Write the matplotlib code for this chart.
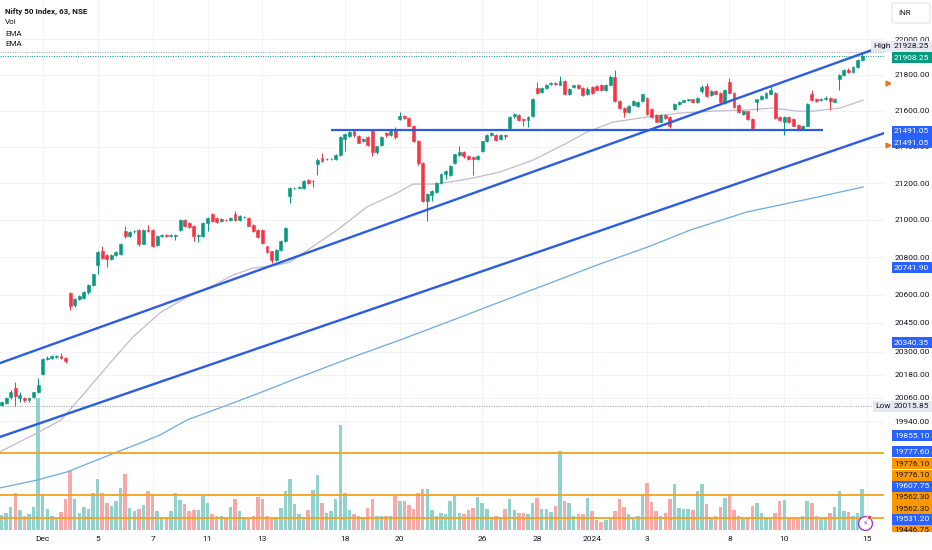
import numpy as np
import matplotlib.pyplot as plt
from matplotlib.lines import Line2D
from matplotlib.patches import FancyBboxPatch, Rectangle
from matplotlib.transforms import blended_transform_factory, offset_copy

plt.rcParams['font.family'] = ['Roboto', 'DejaVu Sans']

# 63-minute bars: last bars of Nov 29, Nov 30, then Dec 1 .. Jan 12 (6 bars a day)
opens = [
    20024, 20032, 20062, 20110, 20060, 20060, 20046, 20062, 20090,
    20182, 20262, 20265, 20274, 20278, 20268,   # Dec 1
    20610, 20545, 20577, 20580, 20612, 20652,   # Dec 4
    20760, 20830, 20812, 20790, 20812, 20815,   # Dec 5
    20940, 20915, 20938, 20945, 20872, 20948,   # Dec 6
    20945, 20865, 20915, 20918, 20914, 20912,   # Dec 7
    20948, 21000, 20985, 20965, 20915, 20912,   # Dec 8
    20985, 21030, 21010, 20995, 20998, 20998,   # Dec 11
    21033, 20998, 21014, 21012, 20975, 20945,   # Dec 12
    20945, 20858, 20830, 20785, 20840, 20886,   # Dec 13
    21130, 21172, 21176, 21175, 21215, 21210,   # Dec 14
    21305, 21335, 21330, 21333, 21330, 21355,   # Dec 15
    21445, 21460, 21485, 21460, 21430, 21455,   # Dec 18
    21485, 21369, 21410, 21478, 21462, 21495,   # Dec 19
    21555, 21570, 21560, 21517, 21430, 21310,   # Dec 20
    21103, 21137, 21152, 21200, 21248, 21246,   # Dec 21
    21310, 21355, 21370, 21350, 21345, 21330,   # Dec 22
    21376, 21430, 21465, 21467, 21440, 21463,   # Dec 26
    21505, 21568, 21575, 21555, 21548, 21570,   # Dec 27
    21727, 21702, 21727, 21750, 21755, 21744,   # Dec 28
    21767, 21690, 21733, 21744, 21727, 21690,   # Dec 29
    21730, 21735, 21744, 21715, 21744, 21789,   # Jan 1
    21655, 21612, 21590, 21630, 21626, 21653,   # Jan 2
    21672, 21608, 21576, 21539, 21576, 21563,   # Jan 3
    21608, 21635, 21650, 21657, 21662, 21645,   # Jan 4
    21708, 21735, 21684, 21711, 21699, 21641,   # Jan 5
    21757, 21699, 21630, 21581, 21595, 21554,   # Jan 8
    21648, 21662, 21672, 21695, 21700, 21563,   # Jan 9
    21536, 21563, 21554, 21521, 21500, 21517,   # Jan 10
    21690, 21666, 21660, 21662, 21672, 21650,   # Jan 11
    21775, 21798, 21829, 21816, 21843, 21883,   # Jan 12
]
highs = [
    20042, 20065, 20098, 20140, 20088, 20065, 20064, 20092, 20160,
    20265, 20275, 20282, 20280, 20290, 20272,
    20616, 20580, 20598, 20620, 20656, 20712,
    20830, 20860, 20818, 20816, 20830, 20875,
    20967, 20940, 20948, 20952, 20952, 20975,
    20950, 20920, 20922, 20924, 20922, 20925,
    21006, 21004, 20990, 20970, 20922, 20988,
    21015, 21036, 21015, 21010, 21004, 21016,
    21048, 21025, 21022, 21016, 20980, 20950,
    20950, 20862, 20835, 20845, 20890, 20960,
    21178, 21180, 21184, 21216, 21220, 21218,
    21335, 21364, 21338, 21338, 21360, 21460,
    21475, 21486, 21490, 21465, 21450, 21460,
    21490, 21405, 21460, 21482, 21490, 21510,
    21592, 21576, 21565, 21522, 21435, 21315,
    21145, 21165, 21205, 21255, 21270, 21298,
    21362, 21402, 21375, 21355, 21350, 21352,
    21434, 21470, 21480, 21472, 21468, 21470,
    21568, 21585, 21580, 21560, 21570, 21668,
    21762, 21730, 21748, 21760, 21762, 21793,
    21772, 21726, 21745, 21750, 21732, 21730,
    21735, 21740, 21750, 21748, 21800, 21825,
    21660, 21618, 21630, 21658, 21652, 21695,
    21678, 21612, 21580, 21580, 21582, 21568,
    21640, 21652, 21660, 21666, 21666, 21676,
    21740, 21755, 21712, 21716, 21704, 21722,
    21780, 21704, 21635, 21604, 21600, 21558,
    21666, 21684, 21704, 21735, 21705, 21568,
    21568, 21568, 21560, 21526, 21522, 21640,
    21717, 21670, 21670, 21680, 21676, 21670,
    21802, 21834, 21836, 21848, 21888, 21928.25,
]
lows = [
    20018, 20028, 20055, 20015.85, 20040, 20040, 20040, 20058, 20085,
    20178, 20255, 20260, 20268, 20262, 20242,
    20518, 20535, 20570, 20575, 20605, 20648,
    20712, 20790, 20748, 20785, 20805, 20810,
    20905, 20910, 20930, 20862, 20868, 20935,
    20855, 20860, 20908, 20910, 20908, 20890,
    20940, 20960, 20958, 20885, 20880, 20908,
    20940, 20990, 20985, 20990, 20992, 20994,
    20995, 20994, 21010, 20965, 20935, 20905,
    20870, 20820, 20770, 20780, 20835, 20880,
    21093, 21166, 21172, 21170, 21196, 21180,
    21246, 21315, 21325, 21328, 21325, 21350,
    21376, 21455, 21455, 21418, 21425, 21405,
    21347, 21362, 21405, 21455, 21458, 21440,
    21550, 21552, 21512, 21425, 21300, 21095,
    20995, 21100, 21148, 21195, 21220, 21240,
    21305, 21350, 21340, 21328, 21246, 21325,
    21370, 21425, 21460, 21432, 21435, 21440,
    21500, 21560, 21540, 21515, 21510, 21565,
    21695, 21698, 21722, 21745, 21745, 21740,
    21685, 21686, 21728, 21722, 21680, 21686,
    21695, 21712, 21710, 21710, 21740, 21648,
    21608, 21563, 21585, 21625, 21620, 21648,
    21576, 21558, 21534, 21535, 21555, 21505,
    21604, 21630, 21646, 21654, 21640, 21640,
    21700, 21676, 21680, 21690, 21646, 21636,
    21695, 21616, 21585, 21576, 21549, 21495,
    21599, 21657, 21668, 21690, 21555, 21540,
    21463, 21530, 21512, 21485, 21495, 21512,
    21655, 21648, 21655, 21658, 21604, 21645,
    21717, 21794, 21810, 21812, 21838, 21878,
]
closes = [
    20037, 20060, 20090, 20070, 20072, 20046, 20060, 20088, 20125,
    20260, 20268, 20275, 20276, 20268, 20250,
    20540, 20577, 20593, 20616, 20652, 20708,
    20825, 20796, 20790, 20812, 20825, 20870,
    20912, 20935, 20940, 20870, 20948, 20940,
    20860, 20915, 20918, 20914, 20918, 20920,
    21002, 20965, 20962, 20912, 20916, 20983,
    21010, 20995, 20990, 21005, 20997, 21012,
    20998, 21020, 21016, 20968, 20940, 20908,
    20875, 20825, 20785, 20840, 20886, 20955,
    21172, 21174, 21178, 21213, 21200, 21212,
    21328, 21320, 21334, 21333, 21355, 21455,
    21470, 21482, 21462, 21423, 21445, 21412,
    21369, 21402, 21455, 21462, 21485, 21455,
    21570, 21560, 21517, 21430, 21310, 21103,
    21140, 21159, 21200, 21250, 21265, 21293,
    21357, 21370, 21348, 21333, 21330, 21348,
    21430, 21467, 21475, 21436, 21463, 21458,
    21565, 21580, 21545, 21548, 21565, 21663,
    21700, 21727, 21744, 21756, 21750, 21767,
    21690, 21722, 21740, 21727, 21684, 21722,
    21699, 21717, 21715, 21744, 21789, 21653,
    21612, 21590, 21626, 21653, 21648, 21690,
    21581, 21563, 21539, 21576, 21560, 21517,
    21635, 21648, 21657, 21662, 21645, 21672,
    21730, 21680, 21708, 21695, 21650, 21717,
    21699, 21621, 21590, 21599, 21554, 21503,
    21662, 21680, 21700, 21717, 21560, 21545,
    21563, 21536, 21517, 21500, 21517, 21635,
    21659, 21653, 21666, 21672, 21653, 21666,
    21798, 21829, 21816, 21843, 21883, 21908.25,
]
# relative volume per bar
volumes = [
    15, 17, 23, 37, 20, 14, 16, 23, 132,
    35, 21, 14, 12, 18, 31,
    59, 31, 17, 23, 21, 37,
    51, 37, 27, 24, 29, 42,
    56, 22, 19, 21, 25, 39,
    36, 19, 13, 13, 19, 37,
    30, 26, 19, 20, 20, 34,
    27, 16, 14, 14, 12, 23,
    31, 19, 13, 11, 14, 33,
    31, 14, 12, 12, 22, 39,
    51, 26, 16, 13, 20, 40,
    55, 27, 17, 19, 31, 105,
    37, 20, 16, 14, 13, 22,
    31, 14, 14, 14, 14, 34,
    29, 29, 25, 21, 37, 41,
    41, 20, 14, 17, 16, 29,
    35, 17, 16, 20, 22, 33,
    27, 21, 13, 14, 12, 21,
    31, 20, 17, 17, 16, 27,
    32, 21, 21, 18, 24, 79,
    29, 27, 14, 16, 16, 32,
    19, 10, 8, 10, 11, 19,
    31, 23, 16, 11, 14, 36,
    47, 28, 19, 14, 17, 31,
    46, 22, 21, 21, 20, 39,
    46, 26, 13, 14, 23, 32,
    35, 20, 14, 11, 13, 24,
    27, 17, 12, 11, 17, 29,
    30, 12, 12, 12, 14, 29,
    27, 14, 13, 12, 17, 23,
    39, 19, 18, 14, 17, 41,
]

# EMA lines (bar index, price)
ema_fast_x = [-1, 7.75, 13.0, 18.7, 23.7, 28.7, 34.6, 40.5, 45.5, 50.6, 54.9, 60.2, 63.0,
              73.3, 79.8, 86.4, 89.9, 94.3, 98.0, 103.0, 108.9, 116.1, 123.5, 127.9, 130.7,
              133.6, 141.0, 148.2, 155.4, 162.8, 168.5, 173.8, 177.3, 183.2, 188.2]
ema_fast = [19775, 19878, 19945, 20100, 20240, 20376, 20503, 20587, 20640, 20704, 20741, 20757, 20773,
            20945, 21070, 21146, 21195, 21195, 21206, 21228, 21261, 21326, 21420, 21481, 21508,
            21536, 21564, 21586, 21597, 21603, 21614, 21597, 21597, 21614, 21658]
ema_slow_x = [-1, 7.75, 14.3, 20.9, 25.2, 30.3, 34.6, 40.5, 50.6, 58.0, 65.2, 76.1, 87.0,
              98.0, 108.9, 119.8, 130.7, 141.7, 150.4, 162.8, 177.3, 188.2]
ema_slow = [19596, 19639, 19680, 19741, 19781, 19827, 19868, 19945, 20033, 20100, 20167, 20266, 20360,
            20460, 20561, 20661, 20763, 20859, 20945, 21043, 21119, 21179]

# drawings
upper_x, upper_y = [-1, 190.1], [20234, 21939]
lower_x, lower_y = [-1, 193.5], [19853, 21481]
support_x, support_y = [72.0, 179.5], [21491.05, 21491.05]
orange_levels = [19776.10, 19562.30, 19446.75]

high_price, last_price, low_price = 21928.25, 21908.25, 20015.85

price_ticks = [22000, 21800, 21600, 21400, 21200, 21000, 20800, 20600, 20450, 20300, 20180, 20060, 19940]
day_idx = [9, 21, 33, 45, 57, 75, 87, 105, 117, 129, 141, 159, 171, 189]
day_labels = ['Dec', '5', '7', '11', '13', '18', '20', '26', '28', '2024', '3', '8', '10', '15']

# price-scale badges: (price, text, background, text colour, shift down in px)
badges = [
    (last_price, '21908.25', '#089981', 'white', 2),
    (21491.05, '21491.05', '#2962ff', 'white', 1),
    (21491.05, '21491.05', '#2962ff', 'white', 12.5),
    (20741.90, '20741.90', '#2962ff', 'white', 0),
    (20340.35, '20340.35', '#2962ff', 'white', -1),
    (19855.10, '19855.10', '#2962ff', 'white', -2),
    (19777.60, '19777.60', '#2962ff', 'white', -1),
    (19776.10, '19776.10', '#ff9800', '#131722', 10.5),
    (19776.10, '19776.10', '#ff9800', '#131722', 22),
    (19607.75, '19607.75', '#2962ff', 'white', 0),
    (19562.30, '19562.30', '#ff9800', '#131722', 2),
    (19562.30, '19562.30', '#ff9800', '#131722', 13.5),
    (19531.20, '19531.20', '#2962ff', 'white', 18),
    (19446.75, '19446.75', '#ff9800', '#131722', 12),
]

W, H = 932, 550
fig = plt.figure(figsize=(W / 100, H / 100), dpi=100)
rect = [0, 20 / H, 884 / W, 530 / H]
axv = fig.add_axes(rect)
ax = fig.add_axes(rect, sharex=axv)
ax.patch.set_alpha(0)

n = len(closes)
idx = np.arange(n)
o = np.array(opens, float)
c = np.array(closes, float)
up = c >= o
candle_col = np.where(up, '#089981', '#f23645')
vol_col = np.where(up, '#92d2cc', '#f7a9a7')

ax.set_xlim(-0.33, 192.77)
axv.set_ylim(0, 530)
axv.axis('off')
ax.set_yscale('log')
ax.set_ylim(19388, 22224)

# grid
axv.vlines(day_idx, 0, 530, color='#f0f3fa', lw=0.8, zorder=0)
grid_tr = blended_transform_factory(axv.transAxes, ax.transData)
for p in price_ticks:
    axv.plot([0, 1], [p, p], color='#f0f3fa', lw=0.8, transform=grid_tr, zorder=0)

# volume
axv.bar(idx, volumes, width=0.76, color=vol_col, zorder=1)

# emas
ax.plot(ema_slow_x, ema_slow, color='#6aabe6', lw=0.9, zorder=2)
ax.plot(ema_fast_x, ema_fast, color='#c3b9cc', lw=0.9, zorder=2)

# candles
ax.vlines(idx, lows, highs, colors=candle_col, lw=0.75, zorder=3)
ax.bar(idx, np.abs(c - o), bottom=np.minimum(o, c), width=0.64, color=candle_col,
       edgecolor=candle_col, linewidth=0.4, zorder=4)

# drawings
ax.plot(upper_x, upper_y, color='#2a5ce8', lw=1.7, solid_capstyle='butt', zorder=5)
ax.plot(lower_x, lower_y, color='#2a5ce8', lw=1.7, solid_capstyle='butt', zorder=5)
ax.plot(support_x, support_y, color='#2a5ce8', lw=1.6, solid_capstyle='butt', zorder=5)
for p in orange_levels:
    ax.axhline(p, color='#f5a31a', lw=1.3, zorder=5)

ax.axhline(high_price, color='#9598a1', lw=0.7, ls=(0, (1, 1.5)), zorder=2)
ax.axhline(last_price, color='#089981', lw=0.7, ls=(0, (1, 1.5)), zorder=2)
ax.axhline(low_price, color='#9598a1', lw=0.7, ls=(0, (1, 1.5)), zorder=2)

# axes
for s in ax.spines.values():
    s.set_visible(False)
ax.yaxis.tick_right()
ax.set_yticks(price_ticks)
ax.set_yticklabels([f'{p:.2f}' for p in price_ticks])
ax.yaxis.set_minor_locator(plt.NullLocator())
ax.tick_params(axis='y', length=0, pad=7.5, labelsize=6.0, labelcolor='#131722')
ax.set_xticks(day_idx)
ax.set_xticklabels(day_labels)
ax.tick_params(axis='x', length=0, pad=4, labelsize=6.0, labelcolor='#131722')

tr = blended_transform_factory(ax.transAxes, ax.transData)
lx = 894 / 884
for price, txt, bg, fg, dy in badges:
    t = offset_copy(tr, fig=fig, y=-dy, units='dots')
    ax.text(lx, price, txt, transform=t, fontsize=6.0, color=fg, ha='left', va='center',
            bbox=dict(boxstyle='square,pad=0.3', fc=bg, ec='none'), clip_on=False, zorder=10)

for price, tag, dy in [(high_price, 'High', -6), (low_price, 'Low', 0)]:
    t = offset_copy(tr, fig=fig, y=-dy, units='dots')
    ax.text(lx, price, f'{price:.2f}', transform=t, fontsize=6.0, color='#131722', ha='left',
            va='center', bbox=dict(boxstyle='square,pad=0.3', fc='#e6e9f0', ec='none'),
            clip_on=False, zorder=10)
    ax.text(891 / 884, price, tag, transform=t, fontsize=6.0, color='#131722', ha='right',
            va='center', bbox=dict(boxstyle='square,pad=0.3', fc='#e6e9f0', ec='none'),
            clip_on=False, zorder=9)

# alert markers on the scale
ax.plot([888 / 884, 888 / 884], [21753, 21409], ls='none', marker='>', ms=3.5,
        color='#e8752b', transform=tr, clip_on=False, zorder=11)

# legend
fig.text(5 / W, 1 - 11 / H, 'Nifty 50 Index, 63, NSE', fontsize=5.8, weight='bold',
         color='#131722', va='center')
for y, s in [(22.5, 'Vol'), (33.5, 'EMA'), (44.5, 'EMA')]:
    fig.text(5 / W, 1 - y / H, s, fontsize=5.8, color='#131722', va='center')

# currency box
fig.patches.append(FancyBboxPatch((892 / W, 1 - 23 / H), 38 / W, 20 / H,
                                  boxstyle='round,pad=0,rounding_size=0.004',
                                  transform=fig.transFigure, fc='white', ec='#e0e3eb', lw=0.8))
fig.text(898 / W, 1 - 13 / H, 'INR', fontsize=5.8, color='#131722', va='center')

# cut the lowest badge at the time-scale edge
fig.patches.append(Rectangle((884 / W, 0), 48 / W, 18.5 / H, transform=fig.transFigure,
                             fc='white', ec='none', zorder=20))

# replay icon
fig.add_artist(Line2D([865 / W], [1 - 522.5 / H], marker='o', ms=10, mfc='white',
                      mec='#a23ad6', mew=1.0, transform=fig.transFigure, zorder=21))
fig.text(865 / W, 1 - 522.5 / H, '\u26a1', fontsize=5.5, color='#a23ad6', ha='center',
         va='center', family='DejaVu Sans', zorder=22)
fig.add_artist(Line2D([869 / W], [1 - 517 / H], marker='o', ms=3, mfc='#f23645',
                      mec='white', mew=0.5, transform=fig.transFigure, zorder=23))

fig.savefig('out.png', dpi=100, facecolor='white')
